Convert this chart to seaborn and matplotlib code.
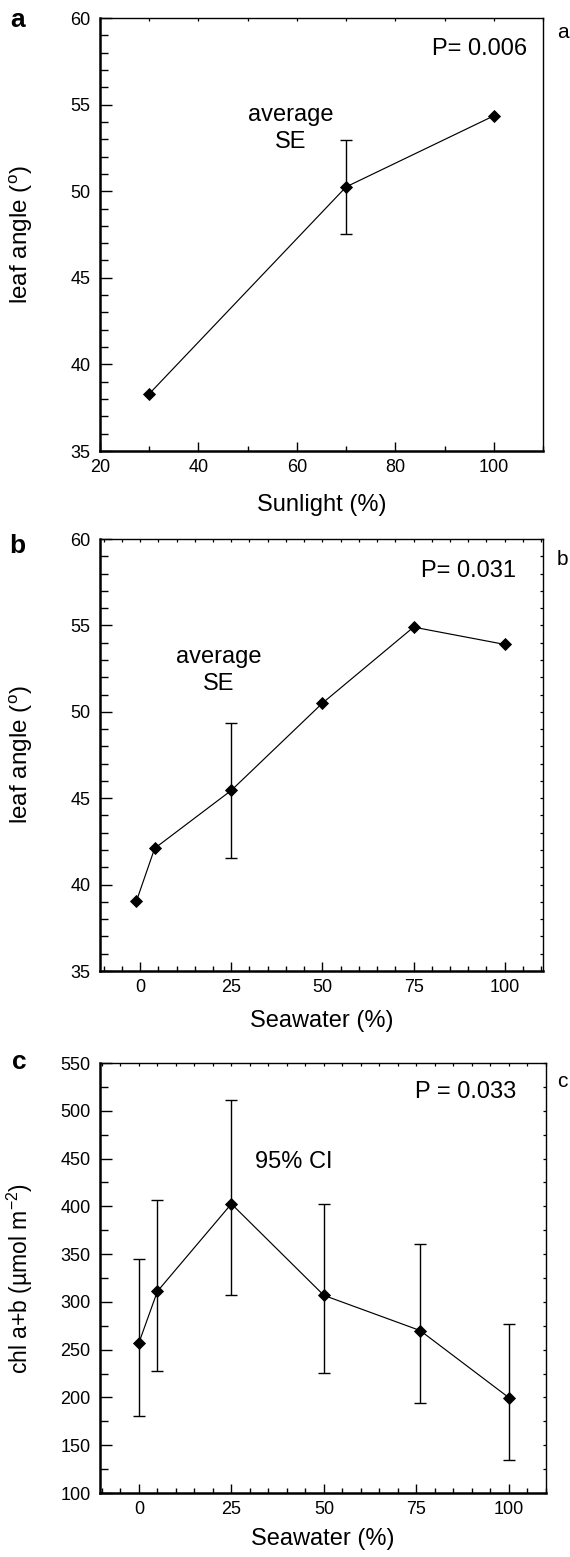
import numpy as np
import matplotlib
matplotlib.use("Agg")
import matplotlib.pyplot as plt
from matplotlib.ticker import MultipleLocator
import seaborn as sns

# panel a: leaf angle vs sunlight (average, SE)
sun_pct = [30, 70, 100]
sun_angle = [38.3, 50.25, 54.35]
sun_se = [0, 2.7, 0]

# panel b: leaf angle vs seawater (average, SE)
sea_pct_b = [-1, 4, 25, 50, 75, 100]
sea_angle = [39.05, 42.1, 45.45, 50.5, 54.9, 53.9]
sea_se = [0, 0, 3.9, 0, 0, 0]

# panel c: chl a+b vs seawater (95% CI)
sea_pct_c = [0, 5, 25, 50, 76, 100]
chl = [257, 311, 402.6, 306.8, 270, 199.7]
chl_lo = [181, 228, 307, 226, 194, 135]
chl_hi = [345, 406.5, 511, 402.6, 360.7, 277]

sns.set_theme(style="white")
plt.rcParams["font.family"] = ["Liberation Sans", "DejaVu Sans"]
plt.rcParams["mathtext.fontset"] = "custom"
plt.rcParams["mathtext.rm"] = "Liberation Sans"
plt.rcParams["mathtext.it"] = "Liberation Sans:italic"
plt.rcParams["mathtext.bf"] = "Liberation Sans:bold"
plt.rcParams["text.color"] = "black"
plt.rcParams["axes.labelcolor"] = "black"
plt.rcParams["axes.edgecolor"] = "black"
plt.rcParams["xtick.color"] = "black"
plt.rcParams["ytick.color"] = "black"

W, H = 570, 1557
fig = plt.figure(figsize=(W / 100, H / 100), dpi=100)


def px(x, y):
    return x / W, 1 - y / H


def add_ax(left, top, right, bottom):
    return fig.add_axes([left / W, 1 - bottom / H, (right - left) / W, (bottom - top) / H])


def draw(ax, x, y, lo, hi):
    x = np.asarray(x, float)
    y = np.asarray(y, float)
    lo = np.asarray(lo, float)
    hi = np.asarray(hi, float)
    sns.lineplot(x=x, y=y, ax=ax, color="black", lw=0.85, marker="D",
                 markersize=6.2, markeredgecolor="black", markeredgewidth=0.6,
                 zorder=3)
    m = (lo > 0) | (hi > 0)
    ax.errorbar(x[m], y[m], yerr=[lo[m], hi[m]], fmt="none", ecolor="black",
                elinewidth=1.0, capsize=4.3, capthick=1.0, zorder=2)


def style(ax, xlim, ylim, xmaj, xmin, ymaj, ymin, right_ticks):
    ax.set_xlim(*xlim)
    ax.set_ylim(*ylim)
    ax.xaxis.set_major_locator(MultipleLocator(xmaj))
    ax.xaxis.set_minor_locator(MultipleLocator(xmin))
    ax.yaxis.set_major_locator(MultipleLocator(ymaj))
    ax.yaxis.set_minor_locator(MultipleLocator(ymin))
    ax.tick_params(which="both", direction="in", bottom=True, left=True,
                   top=True, right=right_ticks, width=1.0, labelsize=13,
                   colors="black")
    ax.tick_params(axis="y", which="both", pad=6.8)
    ax.tick_params(axis="x", which="both", pad=6)
    ax.tick_params(axis="y", which="major", length=8.4)
    ax.tick_params(axis="y", which="minor", length=5.5)
    ax.tick_params(axis="x", which="major", length=6.5)
    ax.tick_params(axis="x", which="minor", length=3.6)
    for t in (ax.xaxis.get_major_ticks() + ax.xaxis.get_minor_ticks()
              + ax.yaxis.get_major_ticks() + ax.yaxis.get_minor_ticks()):
        t.tick2line.set_markersize(2.2)
        t.tick2line.set_markeredgewidth(0.9)
    for s in ["left", "bottom"]:
        ax.spines[s].set_linewidth(1.8)
    for s in ["top", "right"]:
        ax.spines[s].set_linewidth(1.0)
    ax.grid(False)


# ---- panel a
ax = add_ax(100, 18, 543, 451)
draw(ax, sun_pct, sun_angle, sun_se, sun_se)
style(ax, (20, 110), (35, 60), 20, 10, 5, 1, False)
ax.set_xlabel("Sunlight (%)", fontsize=17, va="top")
ax.set_ylabel("leaf angle ($^{\\mathrm{o}}$)", fontsize=17.5)
ax.xaxis.set_label_coords(0.5, -0.099)
ax.yaxis.set_label_coords(-0.146, 0.5)
ax.text(106.7, 57.86, "P= 0.006", fontsize=17, ha="right", va="baseline")
ax.text(58.8, 53.6, "average\nSE", fontsize=17, ha="center", va="center",
        linespacing=1.3)

# ---- panel b
ax = add_ax(100, 539, 543, 971)
draw(ax, sea_pct_b, sea_angle, sea_se, sea_se)
style(ax, (-11, 110.5), (35, 60), 25, 5, 5, 1, True)
ax.set_xlabel("Seawater (%)", fontsize=17, va="top")
ax.set_ylabel("leaf angle ($^{\\mathrm{o}}$)", fontsize=17.5)
ax.xaxis.set_label_coords(0.5, -0.09)
ax.yaxis.set_label_coords(-0.146, 0.5)
ax.text(103.1, 57.8, "P= 0.031", fontsize=17, ha="right", va="baseline")
ax.text(21.6, 52.4, "average\nSE", fontsize=17, ha="center", va="center",
        linespacing=1.3)

# ---- panel c
ax = add_ax(100, 1063, 546, 1493)
lo = np.array(chl) - np.array(chl_lo)
hi = np.array(chl_hi) - np.array(chl)
draw(ax, sea_pct_c, chl, lo, hi)
style(ax, (-10.5, 110), (100, 550), 25, 5, 50, 25, True)
ax.set_xlabel("Seawater (%)", fontsize=17, va="top")
ax.set_ylabel("chl a+b (\u00b5mol m$^{-2}$)", fontsize=16.5)
ax.xaxis.set_label_coords(0.5, -0.081)
ax.yaxis.set_label_coords(-0.146, 0.5)
ax.text(101.9, 513.4, "P = 0.033", fontsize=17, ha="right", va="baseline")
ax.text(41.9, 440, "95% CI", fontsize=17, ha="center", va="baseline")

# panel letters
for lab, (x, y) in zip("abc", [(10, 27), (9, 553), (12, 1069)]):
    fig.text(*px(x, y), lab, fontsize=19, fontweight="bold", ha="left", va="baseline")
for lab, (x, y) in zip("abc", [(557, 38), (557, 565), (557, 1087)]):
    fig.text(*px(x, y), lab, fontsize=15, ha="left", va="baseline")

fig.savefig("out.png", dpi=100)
